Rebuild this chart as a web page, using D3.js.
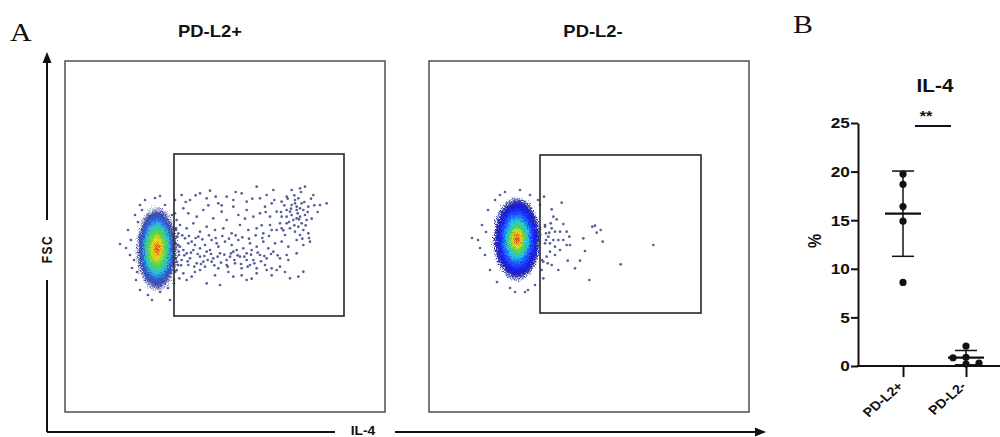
<!DOCTYPE html>
<html lang="en">
<head>
<meta charset="UTF-8">
<title>PD-L2 / IL-4</title>
<style>
  body { margin: 0; background: #fff; }
  svg { display: block; }
  .sans { font-family: "Liberation Sans", Arial, sans-serif; font-weight: bold; fill: #111; }
  .serif { font-family: "Liberation Serif", "Times New Roman", serif; fill: #111; }
</style>
</head>
<body>
<svg width="1000" height="437"></svg>
<script src="https://cdn.jsdelivr.net/npm/d3@7"></script>
<script>
// ---- data ----
// flow panels (A): channel units, IL-4 on x (0-960), FSC on y (0-1053)
const panelTitles = ['PD-L2+', 'PD-L2-'];
const gatePos = [327, 837, 288, 774];   // il4 min, il4 max, fsc min, fsc max
const gateNeg = [333, 816, 297, 771];
const coreCenter = [[276, 489], [264, 519]];   // dense population, il4 / fsc
const coreSpread = [[63, 129], [72, 126]];

const eventsPos = [
  // around the dense population
  [165, 504], [189, 546], [195, 471], [201, 432], [210, 591], [213, 396], [225, 621], [225, 366],
  [240, 636], [249, 351], [270, 642], [285, 360], [300, 621], [309, 372], [321, 591], [327, 396],
  [333, 546], [336, 450], [339, 501], [198, 516], [219, 570], [216, 420], [315, 336], [261, 336],
  [231, 606], [183, 492], [207, 456], [285, 648], [330, 636], [342, 471],
  // along the gate edge
  [330, 596], [335, 576], [333, 551], [337, 526], [331, 506], [341, 481], [333, 461], [339, 441],
  [331, 421], [343, 401], [327, 386],
  // upper events
  [350, 651], [375, 636], [405, 656], [435, 664], [425, 641], [460, 626], [485, 646], [505, 636],
  [530, 656], [545, 631], [575, 676], [585, 641], [605, 651], [620, 626], [625, 666], [650, 631],
  [665, 646], [680, 666], [705, 671], [720, 676], [745, 651], [765, 621], [785, 626],
  [355, 611], [370, 596], [395, 586], [415, 606], [445, 581], [470, 601], [485, 576], [505, 616],
  [520, 591], [545, 606], [565, 586], [585, 596], [600, 616], [615, 586], [635, 601], [650, 586],
  [665, 606], [680, 621], [690, 636], [700, 641], [710, 626], [695, 606], [715, 606], [730, 616],
  [705, 586], [725, 576], [685, 576], [665, 566], [645, 566], [635, 546], [675, 551], [700, 556],
  [715, 546], [730, 536], [660, 531], [690, 626], [695, 616], [705, 611], [680, 591], [695, 581],
  [710, 566], [675, 601], [720, 591], [650, 551], [690, 541], [705, 531], [665, 586],
  [362, 630], [392, 650], [452, 646], [512, 660], [562, 640], [602, 600], [628, 636], [470, 620],
  [430, 620], [540, 580], [590, 560], [620, 546],
  [648, 600], [658, 620], [668, 640], [678, 610], [688, 650], [698, 596], [708, 660], [718, 630],
  [728, 600], [738, 640], [748, 620], [758, 600], [672, 570], [688, 560], [702, 578], [722, 560],
  [740, 580], [655, 545], [712, 520], [732, 522],
  // middle band
  [345, 561], [365, 551], [385, 566], [405, 541], [425, 556], [450, 546], [475, 551], [500, 536],
  [525, 561], [550, 546], [575, 551], [595, 536], [615, 561], [340, 536], [360, 521], [380, 511],
  [400, 526], [420, 501], [440, 516], [460, 496], [480, 511], [500, 501], [520, 516], [535, 491],
  [555, 506], [575, 496], [595, 511], [610, 491], [630, 506], [650, 511], [670, 496], [695, 516],
  [715, 501], [735, 511], [345, 496], [365, 476], [385, 486], [405, 466], [425, 481], [445, 461],
  [465, 476], [485, 456], [505, 481], [525, 466], [545, 476], [565, 456], [585, 471], [605, 461],
  [625, 481], [645, 461], [665, 471], [695, 476], [350, 456], [370, 441], [395, 446], [420, 436],
  [440, 451], [460, 431], [485, 441], [510, 446], [530, 431], [555, 441], [575, 431], [600, 441],
  [620, 431], [645, 436], [670, 456], [435, 486], [455, 506], [515, 486], [495, 466], [545, 456],
  [560, 486], [390, 501], [375, 461], [405, 491], [355, 486], [370, 506], [415, 451],
  [352, 530], [372, 528], [392, 522], [412, 518], [432, 530], [452, 522], [472, 528], [492, 520],
  [512, 530], [532, 524], [552, 520], [572, 530], [592, 522], [612, 528], [358, 470], [378, 478],
  [398, 474], [418, 468], [438, 474], [458, 466], [478, 472], [498, 476], [518, 470], [538, 466],
  [558, 472], [578, 478], [598, 468], [618, 474], [638, 470], [348, 440], [368, 452], [388, 436],
  [408, 444], [428, 456], [448, 440], [468, 448], [488, 436], [508, 456], [528, 444], [548, 436],
  [568, 446], [588, 452],
  // lower events
  [355, 416], [380, 406], [405, 426], [425, 386], [465, 381], [505, 406], [545, 396], [575, 416],
  [605, 426], [635, 426], [675, 401], [715, 421], [365, 396], [335, 426],
  [390, 420], [450, 410], [490, 420], [530, 410], [560, 400], [620, 410], [660, 420], [700, 406]
];

const eventsNeg = [
  // around the dense population
  [147, 516], [159, 561], [168, 471], [177, 606], [183, 426], [198, 636], [204, 390], [228, 660],
  [243, 372], [273, 666], [288, 360], [303, 651], [318, 381], [333, 621], [348, 561], [339, 456],
  [153, 492], [171, 540], [213, 651], [258, 360], [297, 366], [327, 636], [351, 516], [129, 522],
  // spill into the gate
  [345, 646], [398, 628], [368, 608], [373, 586], [365, 566], [383, 578], [403, 564], [348, 556],
  [368, 551], [378, 541], [393, 541], [413, 541], [421, 526], [358, 526], [373, 516], [388, 516],
  [403, 516], [363, 506], [378, 496], [348, 506], [413, 501], [423, 501], [393, 486], [363, 481],
  [353, 466], [378, 471], [343, 451], [368, 441], [388, 426], [416, 454], [453, 454], [463, 521],
  [468, 483], [438, 431], [481, 396], [490, 556], [498, 559], [503, 538], [515, 546], [521, 511],
  [575, 443], [673, 501], [343, 401], [338, 426], [351, 536], [361, 538], [356, 446]
];

// dot plot (B)
const groups = ['PD-L2+', 'PD-L2-'];
const pctPos = [19.75, 18.7, 16.4, 14.9, 8.6];
const pctNeg = [2.05, 0.9, 0.85, 0.3, 0.2];
const yTicks = [0, 5, 10, 15, 20, 25];

// ---- drawing ----
var svg = d3.select('svg');
var SX = 1.15; // lettering in the figure is slightly wide

function label(x, y, str, size, cls, rot, anchor) {
  return svg.append('text')
    .attr('class', cls)
    .attr('transform', 'translate(' + x + ',' + y + ') scale(' + SX + ',1)' + (rot ? ' rotate(' + rot + ')' : ''))
    .attr('font-size', size)
    .attr('text-anchor', anchor || 'middle')
    .text(str);
}

var defs = svg.append('defs');
// pseudo-colour density ramps
var ramps = [
  [[0, '#d42818', 1], [0.1, '#f27a12', 1], [0.22, '#e4e020', 1], [0.4, '#4fd24c', 1],
   [0.56, '#2cc4d8', 1], [0.7, '#3060dc', 1], [0.84, '#1e2a92', 0.85], [1, '#1e2a92', 0]],
  [[0, '#d01f10', 1], [0.08, '#f06a10', 1], [0.18, '#e6e022', 1], [0.3, '#4fd04f', 1],
   [0.44, '#22c8ea', 1], [0.56, '#2060ff', 1], [0.78, '#1414e6', 1], [0.9, '#121a92', 0.85], [1, '#121a92', 0]]
];
ramps.forEach(function (r, i) {
  var grad = defs.append('radialGradient').attr('id', 'core' + i);
  grad.selectAll('stop').data(r).enter().append('stop')
    .attr('offset', function (d) { return d[0]; })
    .attr('stop-color', function (d) { return d[1]; })
    .attr('stop-opacity', function (d) { return d[2]; });
});
var grain = defs.append('filter').attr('id', 'grain')
  .attr('x', '-30%').attr('y', '-30%').attr('width', '160%').attr('height', '160%');
grain.append('feTurbulence').attr('type', 'fractalNoise').attr('baseFrequency', 1.3)
  .attr('numOctaves', 2).attr('seed', 4).attr('result', 'n');
grain.append('feDisplacementMap').attr('in', 'SourceGraphic').attr('in2', 'n')
  .attr('scale', 11).attr('xChannelSelector', 'R').attr('yChannelSelector', 'G');

// panel A: two flow plots
var boxX = [[65, 385], [429, 749]];
var titleX = [210, 593];
panelTitles.forEach(function (t, i) {
  var x = d3.scaleLinear().domain([0, 960]).range(boxX[i]);
  var y = d3.scaleLinear().domain([0, 1053]).range([412, 61]);
  var g = svg.append('g');

  g.append('rect')
    .attr('x', boxX[i][0]).attr('y', y(1053))
    .attr('width', boxX[i][1] - boxX[i][0]).attr('height', y(0) - y(1053))
    .attr('fill', 'none').attr('stroke', '#5a5a5a').attr('stroke-width', 1.6);

  var c = coreCenter[i], s = coreSpread[i];
  g.append('ellipse')
    .attr('cx', x(c[0])).attr('cy', y(c[1]))
    .attr('rx', x(s[0]) - x(0)).attr('ry', y(0) - y(s[1]))
    .attr('fill', 'url(#core' + i + ')')
    .attr('filter', 'url(#grain)');

  g.selectAll('circle.ev').data(i ? eventsNeg : eventsPos).enter().append('circle')
    .attr('class', 'ev')
    .attr('cx', function (d) { return x(d[0]); })
    .attr('cy', function (d) { return y(d[1]); })
    .attr('r', 1.35)
    .attr('fill', '#2d3680')
    .attr('opacity', 0.8);

  var gt = i ? gateNeg : gatePos;
  g.append('rect')
    .attr('x', x(gt[0])).attr('y', y(gt[3]))
    .attr('width', x(gt[1]) - x(gt[0])).attr('height', y(gt[2]) - y(gt[3]))
    .attr('fill', 'none').attr('stroke', '#333').attr('stroke-width', 1.7);

  label(titleX[i], 37, t, 16, 'sans');
});

// shared axis arrows
var ax = svg.append('g').attr('stroke', '#111').attr('stroke-width', 2).attr('fill', 'none');
ax.append('path').attr('d', 'M47,432V280M47,220V60');
ax.append('path').attr('d', 'M47,432H335M395,432H757');
svg.append('path').attr('d', 'M47,52L42.5,63L51.5,63Z').attr('fill', '#111');
svg.append('path').attr('d', 'M766,432L755,427.5L755,436.5Z').attr('fill', '#111');
label(47, 249, 'FSC', 12, 'sans', -90).attr('dominant-baseline', 'central').attr('letter-spacing', 1.5);
label(363, 431, 'IL-4', 12, 'sans').attr('dominant-baseline', 'central');

label(10, 41, 'A', 26, 'serif', 0, 'start');
label(793, 33, 'B', 26, 'serif', 0, 'start');

// panel B: dot plot with mean and SD
var yB = d3.scaleLinear().domain([0, 25]).range([366, 123]);
var xB = d3.scalePoint().domain(groups).range([903, 966]);
var axisY = d3.axisLeft(yB).tickValues(yTicks).tickSize(7).tickSizeOuter(0).tickPadding(0);
var gy = svg.append('g').attr('transform', 'translate(858,0)').call(axisY);
gy.select('.domain').attr('stroke', '#111').attr('stroke-width', 2);
gy.selectAll('.tick line').attr('stroke', '#111').attr('stroke-width', 2);
gy.selectAll('.tick text')
  .attr('class', 'sans').attr('font-size', 15)
  .attr('transform', 'scale(' + SX + ',1)');

svg.append('line').attr('x1', 857).attr('x2', 1000).attr('y1', yB(0)).attr('y2', yB(0))
  .attr('stroke', '#111').attr('stroke-width', 2);
var axisX = d3.axisBottom(xB).tickSize(11).tickSizeOuter(0).tickFormat('');
var gx = svg.append('g').attr('transform', 'translate(0,' + yB(0) + ')').call(axisX);
gx.select('.domain').remove();
gx.selectAll('.tick line').attr('stroke', '#111').attr('stroke-width', 2);
groups.forEach(function (gname) {
  label(xB(gname) + 1, 387, gname, 12.5, 'sans', -45, 'end');
});

label(815, 241, '%', 16, 'sans', -90).attr('dominant-baseline', 'central');
label(935, 92, 'IL-4', 18, 'sans');
label(926, 121, '**', 14, 'sans');
svg.append('line').attr('x1', xB(groups[0]) + 12).attr('x2', xB(groups[1]) - 15)
  .attr('y1', 126).attr('y2', 126).attr('stroke', '#111').attr('stroke-width', 2);

var R = 3.6, STEP = 13;
[pctPos, pctNeg].forEach(function (vals, gi) {
  var cx = xB(groups[gi]);
  var m = d3.mean(vals), sd = d3.deviation(vals);
  var g = svg.append('g').attr('stroke', '#111');
  g.append('line').attr('x1', cx).attr('x2', cx).attr('y1', yB(m + sd)).attr('y2', yB(m - sd)).attr('stroke-width', 1.5);
  g.append('line').attr('x1', cx - 11).attr('x2', cx + 11).attr('y1', yB(m + sd)).attr('y2', yB(m + sd)).attr('stroke-width', 1.5);
  g.append('line').attr('x1', cx - 11).attr('x2', cx + 11).attr('y1', yB(m - sd)).attr('y2', yB(m - sd)).attr('stroke-width', 1.5);
  g.append('line').attr('x1', cx - 18).attr('x2', cx + 18).attr('y1', yB(m)).attr('y2', yB(m)).attr('stroke-width', 2.2);

  // simple dodge so overlapping points sit side by side
  var placed = [];
  vals.slice().sort(d3.descending).forEach(function (v) {
    var py = yB(v), slots = [0, -1, 1, -2, 2], k = 0;
    while (placed.some(function (p) { return p.k === slots[k] && Math.abs(p.y - py) < 6; })) k++;
    placed.push({ k: slots[k], y: py });
  });
  svg.selectAll(null).data(placed).enter().append('circle')
    .attr('cx', function (d) { return cx + d.k * STEP; })
    .attr('cy', function (d) { return d.y; })
    .attr('r', R).attr('fill', '#111');
});
</script>
</body>
</html>
